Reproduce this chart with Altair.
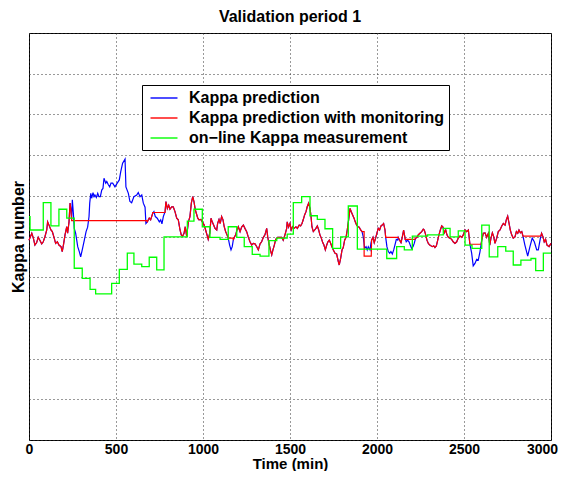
import altair as alt
import pandas as pd

# ---- data (time in min, Kappa in relative units) ----
names = ["Kappa prediction", "Kappa prediction with monitoring", "on\u2212line Kappa measurement"]

blue = [
(0,49.1),(16,50.8),(25,49.6),(34,47.9),(44,48.5),(53,49.8),(63,49.0),(73,48.2),(82,48.7),(92,50.0),(102,51.6),(107,53.6),(115,52.8),(126,51.6),(134,51.2),(145,49.6),(153,48.3),(163,48.7),(172,47.9),(184,47.5),(191,46.3),(199,48.2),(207,50.4),(217,52.4),(222,50.8),(230,53.6),(236,58.2),(241,56.5),(245,54.1),
(249,59.0),(255,55.7),(260,52.0),(268,50.8),(280,47.5),(289,46.3),(297,45.0),(306,46.7),(318,49.1),(328,51.2),(337,52.3),(345,54.9),(349,58.2),(355,60.6),(360,59.4),(368,60.8),(374,59.8),(379,60.2),(387,59.6),(395,60.6),(402,59.8),(410,59.8),(418,61.4),(425,61.8),(431,64.3),(441,63.1),(447,63.5),(456,62.7),(464,62.2),(471,63.1),(481,63.1),(494,62.2),(507,63.1),(519,63.9),(527,65.9),(538,68.0),(552,69.0),(557,62.2),(571,60.6),(580,58.6),(590,58.3),(603,59.8),(619,60.2),(628,60.8),(638,59.8),(648,60.2),(657,58.2),(667,57.2),(672,53.2),
(680,53.6),(691,54.5),(699,54.1),(711,55.7),(718,56.1),(726,54.9),(737,54.5),(749,53.6),(757,54.1),(764,53.1),(772,54.9),
(782,56.1),(787,58.6),(795,56.9),(803,57.7),(810,56.7),(820,57.3),(829,57.3),(839,56.1),(849,54.5),(858,54.1),(868,51.6),(875,50.4),(883,50.1),(891,50.8),(898,52.4),(906,50.1),(916,53.6),(925,54.9),(933,58.2),(941,59.8),(948,58.6),(956,56.5),(970,54.5),(977,54.1),(988,54.2),(996,53.6),
(1007,52.8),(1015,51.6),(1023,50.4),(1030,49.3),(1039,50.8),(1046,54.5),(1053,53.6),(1061,52.8),(1069,52.0),(1079,51.6),(1084,53.2),(1092,54.2),(1099,53.2),(1107,54.9),(1115,54.1),(1122,52.4),(1130,51.2),(1138,50.4),(1145,49.6),(1153,47.9),(1161,46.7),(1168,47.5),(1174,49.1),
(1180,49.8),(1188,50.4),(1195,51.6),(1203,52.4),(1213,51.2),(1222,52.3),(1232,52.8),(1241,52.0),(1251,51.2),(1260,49.9),(1270,48.7),(1280,47.9),(1289,48.3),(1299,48.2),(1309,47.5),(1318,46.7),(1328,48.2),(1337,48.7),(1347,49.8),(1356,50.4),(1366,52.0),(1372,49.9),(1379,48.3),(1387,46.7),(1395,45.5),(1402,46.7),(1410,47.9),(1418,49.3),(1429,49.8),(1442,49.8),(1452,49.8),(1461,49.1),(1471,50.4),(1481,52.0),(1484,53.6),(1492,52.3),(1500,53.2),
(1507,51.6),(1515,52.4),(1523,52.0),(1534,52.4),(1542,52.0),(1553,52.8),(1561,52.6),(1569,53.2),(1576,54.1),(1584,55.3),(1592,56.1),(1599,57.3),(1607,58.2),(1615,56.9),(1621,54.9),(1626,52.4),(1634,51.2),(1642,51.6),(1649,52.0),(1657,52.6),(1665,51.6),(1672,50.4),(1680,49.6),(1688,48.5),(1695,47.9),(1703,46.7),(1711,47.9),(1718,48.7),(1726,49.1),(1734,48.3),(1741,47.5),(1749,46.7),(1759,45.9),(1768,45.7),(1778,43.8),(1783,43.0),(1791,44.6),(1799,46.7),(1806,47.3),(1814,49.1),(1822,49.8),(1829,51.6),(1837,54.1),(1845,56.9),(1852,56.1),(1860,55.3),(1868,54.5),(1875,53.6),(1883,52.8),(1891,52.4),(1898,52.3),(1906,51.6),(1914,51.2),
(1921,49.9),(1929,47.1),(1937,47.5),(1944,46.7),(1950,47.5),(1960,46.7),(1965,48.3),
(1969,49.1),(1977,49.8),(1984,48.5),(1992,49.6),(2000,50.9),(2007,52.0),(2015,51.6),(2023,52.6),(2030,52.8),(2038,53.2),(2046,51.6),(2050,49.8),
(2057,47.5),(2065,46.3),(2073,45.9),(2080,46.3),(2088,45.7),(2096,46.7),(2103,47.9),(2111,49.3),(2119,49.1),
(2122,49.8),(2130,49.1),(2138,48.5),(2145,49.8),(2153,51.6),(2161,49.6),
(2168,48.7),(2176,49.1),(2184,48.7),(2191,47.9),(2199,47.1),(2207,47.5),(2214,48.3),
(2222,49.6),(2230,49.8),(2237,50.4),(2247,50.8),(2257,51.2),(2266,51.8),(2272,51.6),(2280,50.4),(2287,49.1),(2295,48.3),(2303,47.9),(2310,47.7),(2318,47.5),(2326,47.7),(2333,47.3),(2341,47.7),(2349,49.1),(2356,50.4),(2364,51.6),(2372,52.6),(2379,52.3),(2387,50.9),(2395,51.6),(2402,50.4),(2410,49.8),(2419,49.6),(2429,49.3),(2438,48.7),(2448,48.3),(2458,48.7),(2467,49.6),(2477,50.1),(2487,49.8),(2496,50.4),(2506,51.6),(2515,51.2),(2525,51.6),(2534,48.1),
(2544,45.9),(2553,42.8),(2563,43.4),(2573,44.4),(2582,44.2),(2592,46.3),(2602,49.1),
(2611,50.8),(2621,50.9),(2630,49.8),(2640,50.8),(2648,47.9),(2655,49.6),(2663,50.9),(2671,49.9),(2678,48.3),(2688,49.6),(2697,51.2),(2707,51.6),(2717,52.6),(2726,53.2),(2736,52.8),(2743,54.1),(2751,55.0),(2759,53.2),(2766,51.6),(2774,50.4),(2783,49.6),(2793,49.9),(2801,51.2),(2809,50.8),(2816,51.6),(2824,50.9),(2832,51.2),(2839,50.1),
(2850,47.9),(2866,45.2),(2879,47.5),(2892,49.6),(2904,48.7),(2918,46.7),(2927,46.7),(2939,49.6),
(2946,50.8),(2954,49.9),(2961,48.7),(2969,49.3),(2977,47.9),(2989,47.5),(3000,48.3),
]

# intervals where the monitored prediction holds a constant value
hold_start = [245, 711, 1145, 1914, 1926, 2050, 2161, 2534, 2839]
hold_end   = [676, 782, 1174, 1926, 1967, 2122, 2216, 2598, 2941]
hold_level = [53.9, 55.9, 49.6, 51.2, 45.2, 49.8, 49.3, 48.1, 50.1]

green_t = [0, 6, 82, 126, 172, 217, 260, 306, 351, 383, 475, 519, 565, 603, 648, 691, 734, 776, 910, 948,
           996, 1040, 1098, 1145, 1194, 1237, 1283, 1328, 1379, 1424, 1484, 1519, 1567, 1615, 1657, 1701, 1745, 1791, 1835, 1887,
           2056, 2113, 2157, 2203, 2291, 2381, 2420, 2467, 2506, 2546, 2602, 2645, 2694, 2740, 2783, 2827, 2885, 2912, 2956, 3000]
green_v = [54.9, 51.6, 58.3, 52.6, 56.7, 54.5, 42.2, 39.7, 37.0, 35.9, 38.5, 41.9, 45.9, 43.2, 42.6, 44.9, 41.8, 49.9, 53.8, 56.7,
           52.4, 49.8, 49.3, 52.4, 49.8, 47.5, 45.6, 45.2, 49.0, 49.6, 50.6, 58.3, 59.8, 55.1, 54.2, 51.9, 47.1, 49.9, 57.5, 46.9,
           44.6, 47.5, 46.7, 50.1, 50.4, 52.0, 49.9, 51.4, 47.9, 47.1, 52.8, 45.0, 47.5, 46.4, 43.0, 44.2, 44.6, 41.6, 45.9, 45.9]

x_ticks = [0, 500, 1000, 1500, 2000, 2500, 3000]
y_ticks = [0, 10, 20, 30, 40, 50, 60, 70, 80, 90, 100]

# ---- build tables ----
blue_df = pd.DataFrame({"t": [p[0] for p in blue], "v": [p[1] for p in blue]})
blue_df["series"] = names[0]

events = []
for t, v in blue:
    if not any(s < t < e for s, e in zip(hold_start, hold_end)):
        events.append((t, 1, v))
for s, e, lv in zip(hold_start, hold_end, hold_level):
    events.append((s, 2, lv))
    events.append((e, 0, lv))
events.sort(key=lambda r: (r[0], r[1]))
red_df = pd.DataFrame({"t": [r[0] for r in events], "v": [r[2] for r in events]})
red_df["i"] = range(len(red_df))
red_df["series"] = names[1]

green_df = pd.DataFrame({"t": green_t, "v": green_v})
green_df["series"] = names[2]

FONT = "Liberation Sans"
grid_style = dict(grid=True, gridColor="#333333", gridDash=[1, 3], gridWidth=1)

x_enc = alt.X("t:Q", scale=alt.Scale(domain=[0, 3000], nice=False, zero=False),
              axis=alt.Axis(values=x_ticks, format="d", title="Time (min)", labelFlush=False,
                            labelOverlap=False, ticks=False, domain=False, labelPadding=2,
                            labelOffset={"condition": {"test": "datum.value == 3000", "value": -9}, "value": 0},
                            labelFont=FONT, labelFontSize=14, labelFontWeight="bold", labelColor="black",
                            titleFont=FONT, titleFontSize=15, titleFontWeight="bold", titleColor="black",
                            titlePadding=0, **grid_style))
y_enc = alt.Y("v:Q", scale=alt.Scale(domain=[0, 100], nice=False, zero=False),
              axis=alt.Axis(values=y_ticks, labels=False, ticks=False, domain=False,
                            title="Kappa number", titleFont=FONT, titleFontSize=16,
                            titleFontWeight="bold", titleColor="black", titlePadding=3, **grid_style))
color_enc = alt.Color("series:N",
                      scale=alt.Scale(domain=names, range=["#0000ff", "#ff0000", "#00ff00"]),
                      legend=alt.Legend(title=None, orient="none", legendX=113, legendY=52,
                                        symbolType="M-1.7,0H1.7", symbolSize=252, symbolStrokeWidth=1.4,
                                        symbolOffset=9, labelOffset=16,
                                        labelFont=FONT, labelFontSize=16, labelFontWeight="bold",
                                        labelColor="black", labelLimit=400,
                                        padding=4, rowPadding=3, strokeColor="black", fillColor="white"))

blue_line = alt.Chart(blue_df).mark_line(strokeWidth=1.2).encode(x=x_enc, y=y_enc, color=color_enc)
red_line = alt.Chart(red_df).mark_line(strokeWidth=1.2).encode(x=x_enc, y=y_enc, color=color_enc,
                                                               order=alt.Order("i:Q"))
green_line = alt.Chart(green_df).mark_line(strokeWidth=1.3, interpolate="step-after").encode(
    x=x_enc, y=y_enc, color=color_enc)

chart = alt.layer(blue_line, red_line, green_line).properties(
    width=522, height=407,
    title=alt.Title("Validation period 1", font=FONT, fontSize=16, fontWeight="bold",
                    color="black", offset=8),
    padding={"left": 21, "top": 25, "right": 8, "bottom": 31},
    autosize="none",
    background="white",
).configure_view(stroke="black", strokeWidth=1)

chart.save("out.html", embed_options={"renderer": "svg", "actions": False})
